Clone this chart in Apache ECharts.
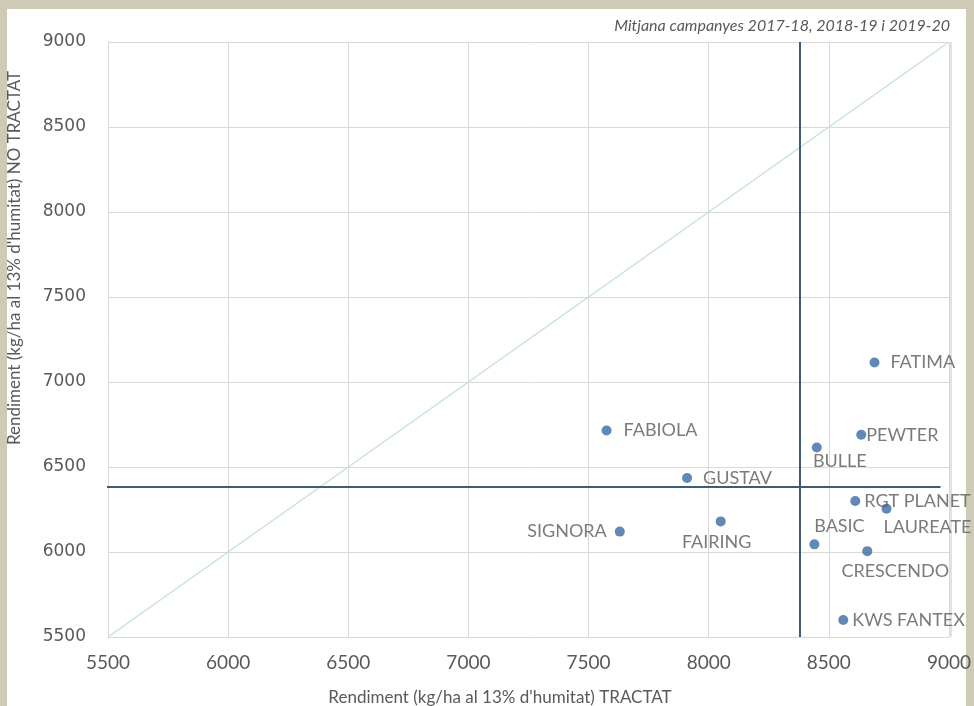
<!DOCTYPE html>
<html>
<head>
<meta charset="utf-8">
<script src="https://cdn.jsdelivr.net/npm/echarts@6/dist/echarts.min.js"></script>
<style>
  html, body { margin: 0; padding: 0; }
  body { width: 974px; height: 706px; background: #cfcab5; position: relative; overflow: hidden; }
  #panel { position: absolute; left: 7px; top: 9px; width: 959px; height: 697px; background: #ffffff; }
  #chart { position: absolute; left: 0; top: 0; width: 974px; height: 706px; }
</style>
</head>
<body>
<div id="panel"></div>
<div id="chart"></div>
<script>
// ---- data ----
const varieties = ['FATIMA', 'FABIOLA', 'PEWTER', 'BULLE', 'GUSTAV', 'RGT PLANET', 'LAUREATE', 'FAIRING', 'SIGNORA', 'BASIC', 'CRESCENDO', 'KWS FANTEX'];
const tractat   = [8690, 7575, 8635, 8450, 7910, 8610, 8740, 8050, 7630, 8440, 8660, 8560];
const noTractat = [7115, 6715, 6690, 6615, 6435, 6300, 6255, 6180, 6120, 6045, 6005, 5600];
const meanTractat = 8380;
const meanNoTractat = 6383;
const axisMin = 5500, axisMax = 9000, axisStep = 500;
const xTitle = "Rendiment (kg/ha al 13% d'humitat) TRACTAT";
const yTitle = "Rendiment (kg/ha al 13% d'humitat) NO TRACTAT";
const note = 'Mitjana campanyes 2017-18, 2018-19 i 2019-20';

// ---- label placement (style only) ----
const SYM = 10;
function around(dx, dy) {
  return { position: [SYM / 2 + dx, SYM / 2 + dy], align: 'center', verticalAlign: 'middle' };
}
const labelStyle = {
  'FATIMA':     { position: 'right', distance: 11, offset: [0, 0] },
  'FABIOLA':    { position: 'right', distance: 12, offset: [0, 0] },
  'PEWTER':     { position: 'right', distance: 0,  offset: [0, -7] },
  'BULLE':      around(23, 14),
  'GUSTAV':     { position: 'right', distance: 11, offset: [0, -5] },
  'RGT PLANET': { position: 'right', distance: 4,  offset: [0, -2] },
  'LAUREATE':   around(41, 19),
  'FAIRING':    around(-4, 21),
  'SIGNORA':    { position: 'left', distance: 8, offset: [0, -3] },
  'BASIC':      around(25, -18),
  'CRESCENDO':  around(28, 20),
  'KWS FANTEX': { position: 'right', distance: 4, offset: [0, 0] }
};

const labelColor = '#595959';
const pointData = varieties.map((n, i) => ({
  name: n,
  value: [tractat[i], noTractat[i]],
  label: Object.assign({ show: true, formatter: n }, labelStyle[n])
}));

const plain = v => String(v);

const chart = echarts.init(document.getElementById('chart'), null, { renderer: 'canvas' });
chart.setOption({
  backgroundColor: 'transparent',
  animation: false,
  grid: { left: 108, right: 23, top: 42, bottom: 69, containLabel: false },
  xAxis: {
    type: 'value', min: axisMin, max: axisMax, interval: axisStep,
    axisLine: { show: true, lineStyle: { color: '#d9d9d9', width: 1 } },
    axisTick: { show: false },
    splitLine: { show: true, lineStyle: { color: '#d9d9d9', width: 1 } },
    axisLabel: { color: labelColor, fontFamily: 'Lato', fontSize: 19, margin: 16, formatter: plain }
  },
  yAxis: {
    type: 'value', min: axisMin, max: axisMax, interval: axisStep,
    axisLine: { show: true, lineStyle: { color: '#d9d9d9', width: 1 } },
    axisTick: { show: false },
    splitLine: { show: true, lineStyle: { color: '#d9d9d9', width: 1 } },
    axisLabel: { color: labelColor, fontFamily: 'DejaVu Sans', fontSize: 17, margin: 22, formatter: plain }
  },
  graphic: [
    { type: 'rect', shape: { x: 951, y: 42, width: 0, height: 595 }, style: { stroke: '#d9d9d9', lineWidth: 1 } },
    { type: 'text', x: 500, y: 698, style: { text: xTitle, fill: labelColor, font: '17px Lato', textAlign: 'center', textVerticalAlign: 'middle' } },
    { type: 'text', x: 15, y: 258, rotation: Math.PI / 2, style: { text: yTitle, fill: labelColor, font: '17px Lato', textAlign: 'center', textVerticalAlign: 'middle' } },
    { type: 'text', x: 950, y: 26, style: { text: note, fill: '#595959', font: 'italic 16px Lato', textAlign: 'right', textVerticalAlign: 'middle' } }
  ],
  series: [
    {
      type: 'line', data: [[axisMin, axisMin], [axisMax, axisMax]],
      symbol: 'none', lineStyle: { color: '#c4e2de', width: 1.5 }, z: 2, silent: true
    },
    {
      type: 'line', data: [[meanTractat, axisMin], [meanTractat, axisMax]],
      symbol: 'none', lineStyle: { color: '#3f5b78', width: 2 }, z: 3, silent: true
    },
    {
      type: 'line', data: [[axisMin - 15, meanNoTractat], [8965, meanNoTractat]],
      symbol: 'none', lineStyle: { color: '#3f5b78', width: 2 }, z: 3, silent: true, clip: false
    },
    {
      type: 'scatter', data: pointData, symbol: 'circle', symbolSize: SYM,
      itemStyle: { color: '#3b6aa3' }, z: 5,
      label: { color: labelColor, fontFamily: 'Lato', fontSize: 18 },
      labelLayout: { hideOverlap: false }
    }
  ]
});
</script>
</body>
</html>
